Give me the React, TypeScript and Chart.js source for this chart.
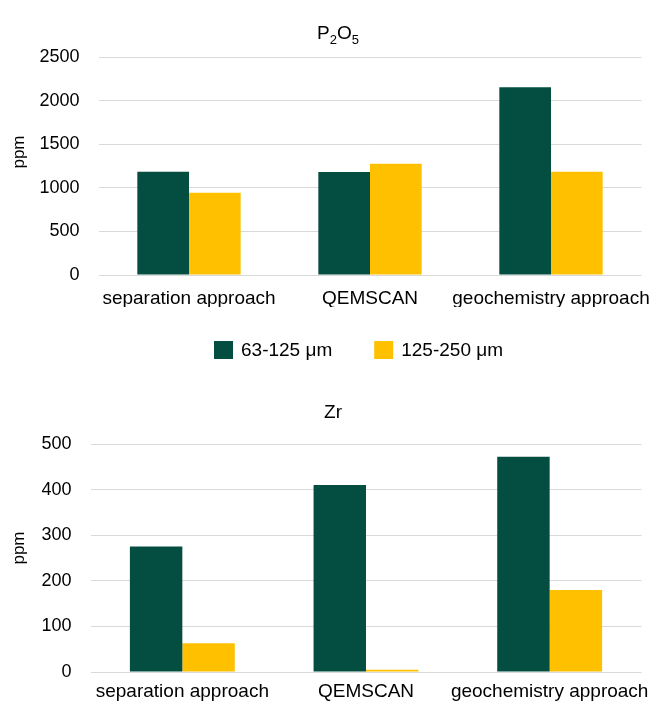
import React, { useEffect, useRef } from "react";
import { Chart, registerables } from "chart.js";
Chart.register(...registerables);

const categories = ["separation approach", "QEMSCAN", "geochemistry approach"];
const seriesNames = ["63-125 μm", "125-250 μm"];
const p2o5Fine = [1183, 1180, 2153];
const p2o5Coarse = [943, 1275, 1183];
const zrFine = [275, 410, 472];
const zrCoarse = [63, 5, 180];
const p2o5Ticks = [0, 500, 1000, 1500, 2000, 2500];
const zrTicks = [0, 100, 200, 300, 400, 500];
const p2o5TitleParts = [
  { text: "P", sub: false },
  { text: "2", sub: true },
  { text: "O", sub: false },
  { text: "5", sub: true },
];
const zrTitleParts = [{ text: "Zr", sub: false }];
const yTitle = "ppm";

const GREEN = "#034E40";
const GOLD = "#FFC000";
const GRID = "#D9D9D9";
const TEXT = "#000000";
const FONT = "'Liberation Sans', Arial, sans-serif";

const richTitle = {
  id: "richTitle",
  afterDraw(chart: any, _args: any, opts: any) {
    if (!opts || !opts.parts) return;
    const ctx = chart.ctx;
    ctx.save();
    ctx.fillStyle = TEXT;
    ctx.textBaseline = "alphabetic";
    ctx.textAlign = "left";
    let total = 0;
    const widths = opts.parts.map((p: any) => {
      ctx.font = `${p.sub ? opts.subSize : opts.size}px ${FONT}`;
      const w = ctx.measureText(p.text).width;
      total += w;
      return w;
    });
    let x = opts.centerX - total / 2;
    opts.parts.forEach((p: any, i: number) => {
      ctx.font = `${p.sub ? opts.subSize : opts.size}px ${FONT}`;
      ctx.fillText(p.text, x, opts.baseline + (p.sub ? opts.subShift : 0));
      x += widths[i];
    });
    // y-axis title
    if (opts.yText) {
      ctx.translate(opts.yX, opts.yY);
      ctx.rotate(-Math.PI / 2);
      ctx.font = `${opts.ySize}px ${FONT}`;
      ctx.textAlign = "center";
      ctx.textBaseline = "middle";
      ctx.fillText(opts.yText, 0, 0);
    }
    ctx.restore();
  },
};

const boxLegend = {
  id: "boxLegend",
  afterDraw(chart: any, _args: any, opts: any) {
    if (!opts || !opts.show) return;
    const ctx = chart.ctx;
    ctx.save();
    ctx.font = `${opts.size}px ${FONT}`;
    const items = chart.data.datasets.map((d: any) => ({ label: d.label, color: d.backgroundColor }));
    const widths = items.map((it: any) => opts.boxW + opts.gap + ctx.measureText(it.label).width);
    const total = widths.reduce((a: number, b: number) => a + b, 0) + opts.spacing * (items.length - 1);
    let x = opts.centerX - total / 2;
    items.forEach((it: any, i: number) => {
      ctx.fillStyle = it.color;
      ctx.fillRect(x, opts.centerY - opts.boxH / 2, opts.boxW, opts.boxH);
      ctx.fillStyle = TEXT;
      ctx.textBaseline = "middle";
      ctx.textAlign = "left";
      ctx.fillText(it.label, x + opts.boxW + opts.gap, opts.centerY + 1);
      x += widths[i] + opts.spacing;
    });
    ctx.restore();
  },
};

type Props = {
  fine: number[];
  coarse: number[];
  ticks: number[];
  titleParts: { text: string; sub: boolean }[];
  height: number;
  padTop: number;
  padBottom: number;
  axisWidth: number;
  xAxisHeight: number;
  xPad: number;
  titleBaseline: number;
  titleCenterX: number;
  yTitleY: number;
  legend: boolean;
  legendY: number;
};

function BarChart(p: Props) {
  const ref = useRef<HTMLCanvasElement | null>(null);
  useEffect(() => {
    if (!ref.current) return;
    const chart = new Chart(ref.current, {
      type: "bar",
      data: {
        labels: categories,
        datasets: [
          { label: seriesNames[0], data: p.fine, backgroundColor: GREEN, borderWidth: 0 },
          { label: seriesNames[1], data: p.coarse, backgroundColor: GOLD, borderWidth: 0 },
        ],
      },
      plugins: [richTitle, boxLegend],
      options: {
        responsive: false,
        animation: false,
        devicePixelRatio: 1,
        layout: { autoPadding: false, padding: { top: p.padTop, bottom: p.padBottom, left: 0, right: 9.5 } },
        datasets: { bar: { categoryPercentage: 0.571, barPercentage: 1 } },
        plugins: {
          legend: { display: false },
          title: { display: false },
          tooltip: { enabled: false },
          richTitle: {
            parts: p.titleParts,
            size: 19,
            subSize: 13,
            subShift: 5,
            baseline: p.titleBaseline,
            centerX: p.titleCenterX,
            yText: yTitle,
            ySize: 17,
            yX: 19,
            yY: p.yTitleY,
          },
          boxLegend: {
            show: p.legend,
            size: 19,
            boxW: 19,
            boxH: 18,
            gap: 8,
            spacing: 42,
            centerX: 358.5,
            centerY: p.legendY,
          },
        } as any,
        scales: {
          x: {
            grid: { display: false, drawTicks: false },
            border: { display: false },
            afterFit: (s: any) => {
              s.height = p.xAxisHeight;
              s.paddingLeft = 0;
              s.paddingRight = 0;
            },
            ticks: {
              color: TEXT,
              font: { family: FONT, size: 19, lineHeight: 1 },
              padding: p.xPad,
              maxRotation: 0,
              autoSkip: false,
            },
          },
          y: {
            min: p.ticks[0],
            max: p.ticks[p.ticks.length - 1],
            afterBuildTicks: (s: any) => {
              s.ticks = p.ticks.map((v) => ({ value: v }));
            },
            afterFit: (s: any) => {
              s.width = p.axisWidth;
              s.paddingTop = 0;
              s.paddingBottom = 0;
            },
            grid: { color: GRID, lineWidth: 1, drawTicks: false },
            border: { display: false },
            ticks: {
              color: TEXT,
              font: { family: FONT, size: 18 },
              padding: 19,
              callback: (v: any) => String(v),
            },
            title: { display: false },
          },
        },
      } as any,
    });
    return () => chart.destroy();
  }, []);
  return <canvas ref={ref} width={651} height={p.height} style={{ display: "block" }} />;
}

export default function App() {
  return (
    <div style={{ position: "absolute", left: 0, top: 0, width: 651, height: 701, background: "#fff", overflow: "hidden" }}>
      <div style={{ position: "absolute", left: 0, top: 0 }}>
        <BarChart
          fine={p2o5Fine}
          coarse={p2o5Coarse}
          ticks={p2o5Ticks}
          titleParts={p2o5TitleParts}
          height={380}
          padTop={57}
          padBottom={73}
          axisWidth={98.5}
          xAxisHeight={32}
          xPad={14.5}
          titleBaseline={39}
          titleCenterX={338}
          yTitleY={152}
          legend={true}
          legendY={350}
        />
      </div>
      <div style={{ position: "absolute", left: 0, top: 380 }}>
        <BarChart
          fine={zrFine}
          coarse={zrCoarse}
          ticks={zrTicks}
          titleParts={zrTitleParts}
          height={321}
          padTop={64}
          padBottom={0}
          axisWidth={90.5}
          xAxisHeight={29}
          xPad={10.5}
          titleBaseline={38}
          titleCenterX={333}
          yTitleY={168}
          legend={false}
          legendY={0}
        />
      </div>
    </div>
  );
}
